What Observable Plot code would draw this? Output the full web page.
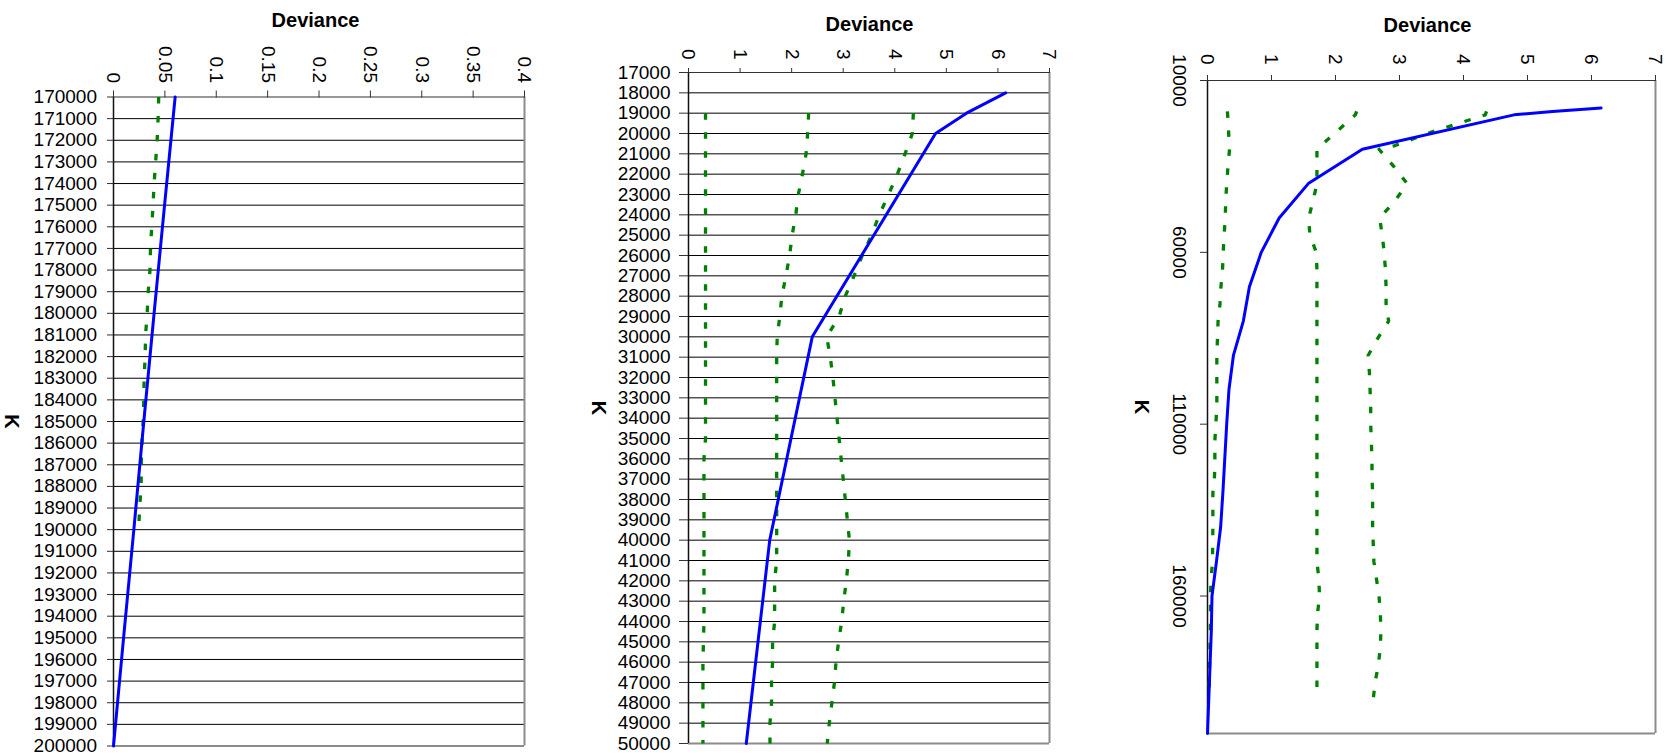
<!DOCTYPE html>
<html><head><meta charset="utf-8">
<script src="https://cdn.jsdelivr.net/npm/d3@7"></script>
<script src="https://cdn.jsdelivr.net/npm/@observablehq/plot@0.6"></script>
<style>
html,body{margin:0;padding:0;background:#fff;}
#wrap{position:relative;width:1670px;height:755px;overflow:hidden;background:#fff;}
#wrap svg{position:absolute;top:0;}
</style></head><body><div id="wrap"></div>
<script>
// ---------- Panel 1 (K 170000-200000, deviance 0-0.4) ----------
const p1XTicks = [0, 0.05, 0.1, 0.15, 0.2, 0.25, 0.3, 0.35, 0.4];
const p1XLabels = ["0", "0.05", "0.1", "0.15", "0.2", "0.25", "0.3", "0.35", "0.4"];
const p1YTicks = d3.range(170000, 200001, 1000);
const p1BlueK = [170000, 175000, 180000, 185000, 190000, 195000, 200000];
const p1BlueV = [0.060, 0.0497, 0.0395, 0.0295, 0.0198, 0.0098, 0];
const p1GreenK = d3.range(170000, 190001, 1000);
const p1GreenV = [0.044, 0.0434, 0.0425, 0.041, 0.0395, 0.0385, 0.0372, 0.036, 0.0355, 0.0338, 0.0328,
                  0.0312, 0.0308, 0.0298, 0.0295, 0.0288, 0.0277, 0.027, 0.0269, 0.0254, 0.0245];

// ---------- Panel 2 (K 17000-50000, deviance 0-7) ----------
const p2XTicks = [0, 1, 2, 3, 4, 5, 6, 7];
const p2XLabels = ["0", "1", "2", "3", "4", "5", "6", "7"];
const p2YTicks = d3.range(17000, 50001, 1000);
const p2BlueK = [18000, 19000, 20000, 30000, 40000, 50000];
const p2BlueV = [6.15, 5.39, 4.79, 2.40, 1.575, 1.12];
const p2GreenK = d3.range(19000, 50001, 1000);
const p2LowV = [0.33, 0.33, 0.33, 0.33, 0.33, 0.33, 0.33, 0.33, 0.33, 0.33, 0.33, 0.33, 0.33, 0.33, 0.33, 0.33, 0.33,
                0.30, 0.30, 0.30, 0.30, 0.30, 0.30, 0.30, 0.30, 0.30,
                0.29, 0.28, 0.28, 0.28, 0.28, 0.28];
const p2MidV = [2.33, 2.31, 2.28, 2.21, 2.13, 2.08, 2.01, 1.96, 1.89, 1.81, 1.77, 1.72,
                1.71, 1.71, 1.71, 1.71, 1.71, 1.71, 1.71, 1.71, 1.71, 1.71, 1.71,
                1.67, 1.67, 1.67, 1.63, 1.63, 1.61, 1.61, 1.58, 1.58];
const p2UpV = [4.36, 4.34, 4.20, 4.05, 3.88, 3.70, 3.55, 3.37, 3.21, 3.04, 2.92, 2.68,
               2.75, 2.80, 2.84, 2.88, 2.92, 2.96, 3.00, 3.04, 3.08, 3.12,
               3.10, 3.06, 3.01, 2.97, 2.91, 2.86, 2.83, 2.78, 2.73, 2.69];

// ---------- Panel 3 (K 10000-200000, deviance 0-7) ----------
const p3XTicks = [0, 1, 2, 3, 4, 5, 6, 7];
const p3XLabels = ["0", "1", "2", "3", "4", "5", "6", "7"];
const p3YTicks = [10000, 60000, 110000, 160000];
const p3BlueK = [18000, 19000, 20000, 30000, 40000, 50000, 60000, 70000, 80000, 90000, 100000,
                 110000, 120000, 130000, 140000, 150000, 160000, 170000, 180000, 190000, 200000];
const p3BlueV = [6.15, 5.39, 4.79, 2.42, 1.575, 1.12, 0.84, 0.655, 0.56, 0.405, 0.335,
                 0.30, 0.27, 0.24, 0.205, 0.14, 0.07, 0.06, 0.04, 0.02, 0];
const p3GreenK = [19000, 20000, 25000, 29000, 30000, 35000, 40000, 45000, 50000, 55000, 60000,
                  65000, 70000, 75000, 80000, 85000, 90000, 95000, 100000, 105000, 110000,
                  115000, 120000, 125000, 130000, 135000, 140000, 145000, 150000, 155000, 160000,
                  165000, 170000, 175000, 180000, 185000, 190000];
const p3LowV = [0.31, 0.315, 0.33, 0.34, 0.344, 0.32, 0.30, 0.285, 0.277, 0.26, 0.245,
                0.235, 0.21, 0.195, 0.165, 0.156, 0.146, 0.146, 0.146, 0.146, 0.13,
                0.115, 0.115, 0.11, 0.084, 0.084, 0.084, 0.08, 0.08, 0.055, 0.047,
                0.047, 0.044, 0.0385, 0.0328, 0.0288, 0.0245];
const p3MidV = [2.33, 2.31, 2.01, 1.77, 1.71, 1.71, 1.71, 1.65, 1.58, 1.60, 1.70,
                1.71, 1.71, 1.71, 1.71, 1.71, 1.71, 1.71, 1.71, 1.71, 1.71,
                1.71, 1.71, 1.71, 1.71, 1.71, 1.71, 1.71, 1.71, 1.74, 1.75,
                1.72, 1.71, 1.71, 1.71, 1.71, 1.71];
const p3UpV = [4.36, 4.34, 3.50, 2.92, 2.68, 2.91, 3.12, 2.93, 2.69, 2.73, 2.76,
               2.78, 2.79, 2.79, 2.83, 2.66, 2.51, 2.53, 2.54, 2.55, 2.55,
               2.56, 2.57, 2.57, 2.58, 2.58, 2.58, 2.59, 2.60, 2.64, 2.68,
               2.70, 2.71, 2.70, 2.67, 2.62, 2.59];

const BLUE = "#0000ff", GREEN = "#008000";
const rows = (ks, vs) => ks.map((k, i) => ({k, v: vs[i]}));

function panel(o) {
  const marks = [];
  if (o.grid) marks.push(Plot.ruleY(o.grid, {y: d => d, stroke: "#000", strokeWidth: 1}));
  marks.push(
    Plot.ruleY([o.yDomain[1]], {stroke: "#8c8c8c", strokeWidth: 2}),
    Plot.ruleX([o.xDomain[1]], {stroke: "#8c8c8c", strokeWidth: 2}),
    Plot.ruleY([o.yDomain[0]], {stroke: "#333", strokeWidth: 1.2}),
    Plot.ruleX([o.xDomain[0]], {stroke: "#111", strokeWidth: 1.5}),
    Plot.axisX(o.xTicks, {anchor: "top", tickSize: o.xTickSize, tickPadding: o.xTickPadding, tickRotate: 90,
      tickFormat: d => o.xLabels[o.xTicks.indexOf(d)], stroke: "#333", fill: "#000", label: null}),
    Plot.axisY(o.yTicks, Object.assign({anchor: "left", tickSize: o.yTickSize, tickPadding: o.yTickPadding,
      tickFormat: d => String(d), stroke: "#333", fill: "#000", label: null}, o.yRotate ? {tickRotate: 90} : {}))
  );
  for (const ln of o.lines) {
    marks.push(Plot.line(ln.data, {x: "v", y: "k", stroke: ln.color, strokeWidth: ln.width,
      strokeDasharray: ln.dash, strokeLinecap: ln.dash ? "butt" : "round", strokeLinejoin: "round"}));
  }
  marks.push(
    Plot.text(["Deviance"], {text: d => d, frameAnchor: "top", dx: o.titleDx, dy: o.titleDy,
      lineAnchor: "middle", textAnchor: "middle", fontWeight: "bold", fontSize: 20, fill: "#000"}),
    Plot.text(["K"], {text: d => d, frameAnchor: "left", dx: o.kDx, rotate: 90,
      lineAnchor: "middle", textAnchor: "middle", fontWeight: "bold", fontSize: 20, fill: "#000"})
  );
  const svg = Plot.plot({
    width: o.width, height: 755,
    marginLeft: o.ml, marginRight: o.mr, marginTop: o.mt, marginBottom: o.mb,
    x: {domain: o.xDomain, label: null},
    y: {domain: o.yDomain, reverse: true, label: null},
    style: {fontFamily: "'Liberation Sans', Arial, sans-serif", fontSize: "19px", color: "#000",
            background: "transparent", overflow: "visible", maxWidth: "none"},
    marks
  });
  svg.style.left = o.left + "px";
  document.getElementById("wrap").appendChild(svg);
}

panel({
  left: 0, width: 560, ml: 113, mr: 36, mt: 96.5, mb: 9.5,
  xDomain: [0, 0.4], yDomain: [170000, 200000],
  xTicks: p1XTicks, xLabels: p1XLabels, xTickSize: 7, xTickPadding: 7,
  yTicks: p1YTicks, yTickSize: 6, yTickPadding: 10.5,
  grid: p1YTicks.slice(1, -1),
  lines: [
    {data: rows(p1GreenK, p1GreenV), color: GREEN, width: 3.3, dash: "6.5,12.5"},
    {data: rows(p1BlueK, p1BlueV), color: BLUE, width: 3}
  ],
  titleDx: -3.5, titleDy: -76, kDx: -102.5
});

panel({
  left: 560, width: 520, ml: 128, mr: 31, mt: 72, mb: 12,
  xDomain: [0, 7], yDomain: [17000, 50000],
  xTicks: p2XTicks, xLabels: p2XLabels, xTickSize: 5, xTickPadding: 8,
  yTicks: p2YTicks, yTickSize: 9, yTickPadding: 9,
  grid: p2YTicks.slice(1, -1),
  lines: [
    {data: rows(p2GreenK, p2LowV), color: GREEN, width: 3.3, dash: "6.5,12.5"},
    {data: rows(p2GreenK, p2MidV), color: GREEN, width: 3.3, dash: "6.5,12.5"},
    {data: rows(p2GreenK, p2UpV), color: GREEN, width: 3.3, dash: "6.5,12.5"},
    {data: rows(p2BlueK, p2BlueV), color: BLUE, width: 3}
  ],
  titleDx: 0.5, titleDy: -48.4, kDx: -89.7
});

panel({
  left: 1100, width: 570, ml: 107, mr: 15, mt: 80, mb: 22,
  xDomain: [0, 7], yDomain: [10000, 200000],
  xTicks: p3XTicks, xLabels: p3XLabels, xTickSize: 6, xTickPadding: 10,
  yTicks: p3YTicks, yTickSize: 7, yTickPadding: 14, yRotate: true,
  grid: null,
  lines: [
    {data: rows(p3GreenK, p3LowV), color: GREEN, width: 3.3, dash: "6.5,12.5"},
    {data: rows(p3GreenK, p3MidV), color: GREEN, width: 3.3, dash: "6.5,12.5"},
    {data: rows(p3GreenK, p3UpV), color: GREEN, width: 3.3, dash: "6.5,12.5"},
    {data: rows(p3BlueK, p3BlueV), color: BLUE, width: 3}
  ],
  titleDx: -4, titleDy: -54.7, kDx: -66
});
</script></body></html>
